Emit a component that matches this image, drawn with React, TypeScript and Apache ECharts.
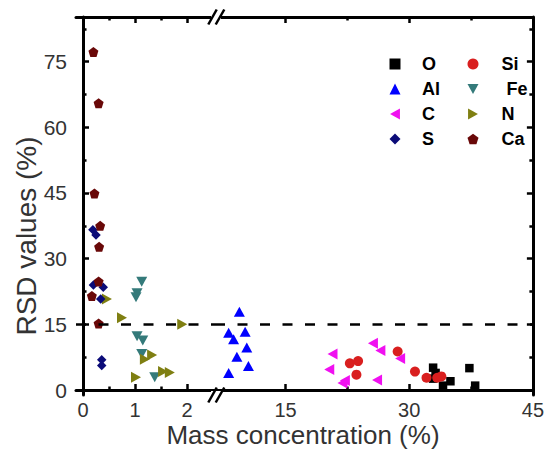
import React, { useEffect, useRef } from 'react';
import * as echarts from 'echarts';

// ---- Data (x: mass concentration %, y: RSD %) ----
const O_DATA = [[32.9, 5.1], [33.2, 3.9], [32.9, 2.6], [35.0, 2.0], [34.1, 1.0], [37.3, 5.0], [38.0, 1.0]];
const SI_DATA = [[22.8, 6.1], [23.8, 6.6], [23.6, 3.5], [28.6, 8.8], [30.7, 4.2], [32.1, 2.8], [33.4, 2.8], [33.9, 3.1]];
const AL_DATA = [[9.4, 17.9], [8.1, 13.1], [8.7, 11.6], [10.1, 13.3], [10.3, 9.7], [9.1, 7.6], [10.5, 5.5], [8.1, 3.9]];
const FE_DATA = [[1.13, 24.7], [1.04, 22.1], [1.02, 21.2], [1.04, 12.3], [1.15, 11.3], [1.13, 8.2], [1.38, 2.9]];
const C_DATA = [[20.7, 8.2], [20.3, 4.7], [22.2, 2.2], [21.9, 1.6], [25.6, 10.7], [26.5, 9.0], [28.9, 7.2], [26.1, 2.3]];
const N_DATA = [[0.46, 20.8], [0.75, 16.5], [1.91, 15.0], [1.19, 7.0], [1.33, 8.0], [1.02, 2.9], [1.54, 4.2], [1.67, 4.0]];
const S_DATA = [[0.19, 36.6], [0.25, 35.4], [0.2, 24.0], [0.39, 23.5], [0.34, 20.8], [0.36, 6.9], [0.36, 5.6]];
const CA_DATA = [[0.2, 77.2], [0.3, 65.5], [0.22, 44.9], [0.33, 37.5], [0.31, 32.7], [0.3, 24.8], [0.17, 21.5], [0.3, 15.2]];

const THRESHOLD = 15;

// axis ranges & ticks
const Y_MIN = -1.14;
const Y_MAX = 85.2;
const Y_MAJOR = [0, 15, 30, 45, 60, 75];
const Y_MINOR = [7.5, 22.5, 37.5, 52.5, 67.5, 82.5];
const XL_MIN = -0.135;
const XL_MAX = 2.54;
const XL_MAJOR = [0, 1, 2];
const XL_MINOR = [0.5, 1.5];
const XR_MIN = 6.445;
const XR_MAX = 45;
const XR_MAJOR = [15, 30, 45];
const XR_MINOR = [22.5, 37.5];

const FONT = '"Liberation Sans", Arial, Helvetica, sans-serif';
const PENTAGON = 'path://M0,-1 L0.951,-0.309 L0.588,0.809 L-0.588,0.809 L-0.951,-0.309 Z';
const DIAMOND = 'path://M0,-1 L1,0 L0,1 L-1,0 Z';
const TRI_DOWN = 'path://M-1,-0.9 L1,-0.9 L0,0.9 Z';
const TRI_LEFT = 'path://M-0.9,0 L0.9,-1 L0.9,1 Z';
const TRI_RIGHT = 'path://M0.9,0 L-0.9,-1 L-0.9,1 Z';

function xAx(grid: number, pos: 'top' | 'bottom', min: number, max: number, ticks: number[], major: boolean, labels?: number[]) {
  return {
    type: 'value',
    gridIndex: grid,
    position: pos,
    min,
    max,
    axisLine: { show: major, lineStyle: { color: '#000', width: 3 } },
    axisTick: { show: true, inside: true, length: major ? 6 : 3.5, customValues: ticks, lineStyle: { color: '#000', width: 2.5 } },
    axisLabel: labels
      ? { show: true, customValues: labels, margin: 5, color: '#333', fontSize: 20, fontFamily: FONT }
      : { show: false },
    splitLine: { show: false },
  };
}

function yAx(grid: number, pos: 'left' | 'right', ticks: number[], major: boolean, labels?: number[]) {
  return {
    type: 'value',
    gridIndex: grid,
    position: pos,
    min: Y_MIN,
    max: Y_MAX,
    axisLine: { show: major, lineStyle: { color: '#000', width: 3 } },
    axisTick: { show: true, inside: true, length: major ? 6 : 3.5, customValues: ticks, lineStyle: { color: '#000', width: 2.5 } },
    axisLabel: labels
      ? { show: true, customValues: labels, margin: 9, color: '#333', fontSize: 21, fontFamily: FONT }
      : { show: false },
    splitLine: { show: false },
  };
}

const dashLine = {
  silent: true,
  symbol: 'none',
  label: { show: false },
  lineStyle: { color: '#000', width: 2.5, type: [10, 12.5] },
  data: [{ yAxis: THRESHOLD }],
};

export default function App() {
  const ref = useRef<HTMLDivElement>(null);
  useEffect(() => {
    if (!ref.current) return;
    const chart = echarts.init(ref.current, null, { renderer: 'svg' });
    const mk = (axis: 'L' | 'R', name: string, data: number[][], color: string, symbol: string, size: any, mark = false) => ({
      name,
      type: 'scatter',
      xAxisIndex: axis === 'L' ? 0 : 4,
      yAxisIndex: axis === 'L' ? 0 : 2,
      data,
      symbol,
      symbolSize: size,
      itemStyle: { color, opacity: 1 },
      markLine: mark ? dashLine : undefined,
    });
    const legendBase = {
      orient: 'vertical',
      top: 49,
      itemWidth: 11,
      itemHeight: 11,
      itemGap: 5,
      selectedMode: false,
      textStyle: { fontSize: 18, fontWeight: 'bold', color: '#000', fontFamily: FONT, lineHeight: 20 },
    };
    const breakMark = (cy: number) => [
      { type: 'rect', z: 100, shape: { x: 211, y: cy - 4, width: 10, height: 8 }, style: { fill: '#fff' } },
      { type: 'line', z: 101, shape: { x1: 208.3, y1: cy + 7.5, x2: 216.7, y2: cy - 7.5 }, style: { stroke: '#000', lineWidth: 2.5 } },
      { type: 'line', z: 101, shape: { x1: 215.7, y1: cy + 7.5, x2: 224.3, y2: cy - 7.5 }, style: { stroke: '#000', lineWidth: 2.5 } },
    ];
    chart.setOption({
      animation: false,
      backgroundColor: '#fff',
      grid: [
        { left: 76, right: 332, top: 17, bottom: 55 },
        { left: 215, right: 3, top: 17, bottom: 55 },
      ],
      xAxis: [
        xAx(0, 'bottom', XL_MIN, XL_MAX, XL_MAJOR, true, XL_MAJOR),
        xAx(0, 'bottom', XL_MIN, XL_MAX, XL_MINOR, false),
        xAx(0, 'top', XL_MIN, XL_MAX, XL_MAJOR, true),
        xAx(0, 'top', XL_MIN, XL_MAX, XL_MINOR, false),
        xAx(1, 'bottom', XR_MIN, XR_MAX, XR_MAJOR, true, XR_MAJOR),
        xAx(1, 'bottom', XR_MIN, XR_MAX, XR_MINOR, false),
        xAx(1, 'top', XR_MIN, XR_MAX, XR_MAJOR, true),
        xAx(1, 'top', XR_MIN, XR_MAX, XR_MINOR, false),
      ],
      yAxis: [
        yAx(0, 'left', Y_MAJOR, true, Y_MAJOR),
        yAx(0, 'left', Y_MINOR, false),
        yAx(1, 'right', Y_MAJOR, true),
        yAx(1, 'right', Y_MINOR, false),
      ],
      legend: [
        { ...legendBase, left: 384.5, data: ['O', 'Al', 'C', 'S'], textStyle: { ...legendBase.textStyle, padding: [0, 0, 0, 16.5] } },
        {
          ...legendBase,
          left: 462.5,
          data: ['Si', 'Fe', 'N', 'Ca'],
          formatter: (n: string) => (n === 'Fe' ? ' Fe' : n),
          textStyle: { ...legendBase.textStyle, padding: [0, 0, 0, 18] },
        },
      ],
      series: [
        mk('R', 'O', O_DATA, '#000000', 'rect', 8.5, true),
        mk('R', 'Si', SI_DATA, '#d91f1f', 'circle', 10),
        mk('R', 'Al', AL_DATA, '#0000ff', 'triangle', [11, 10]),
        mk('L', 'Fe', FE_DATA, '#347a7a', TRI_DOWN, [11, 10], true),
        mk('R', 'C', C_DATA, '#f010f0', TRI_LEFT, [10, 11]),
        mk('L', 'N', N_DATA, '#7f7f12', TRI_RIGHT, [10, 11]),
        mk('L', 'S', S_DATA, '#0b0b78', DIAMOND, 9.5),
        mk('L', 'Ca', CA_DATA, '#690808', PENTAGON, 10),
      ],
      graphic: [
        ...breakMark(395),
        ...breakMark(17),
        {
          type: 'text',
          x: 303,
          y: 435,
          style: { text: 'Mass concentration (%)', fontSize: 26, fontFamily: FONT, fill: '#333', align: 'center', verticalAlign: 'middle' },
        },
        {
          type: 'text',
          x: 26,
          y: 236,
          rotation: Math.PI / 2,
          style: { text: 'RSD values (%)', fontSize: 28, fontFamily: FONT, fill: '#333', align: 'center', verticalAlign: 'middle' },
        },
      ],
    });
    return () => chart.dispose();
  }, []);
  return <div ref={ref} style={{ position: 'fixed', left: 0, top: 0, width: 547, height: 450 }} />;
}
